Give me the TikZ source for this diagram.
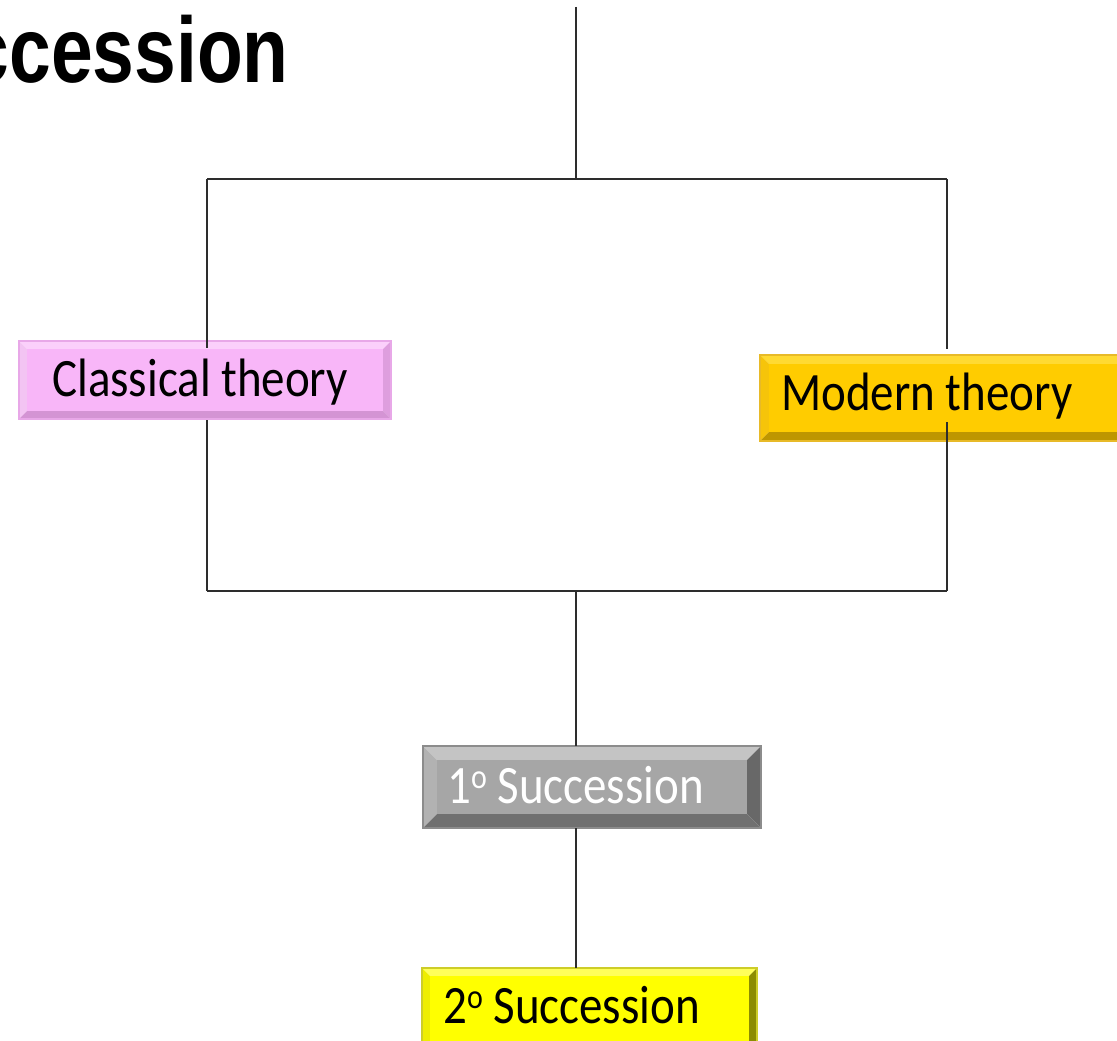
\documentclass[tikz,border=0pt]{standalone}
\usepackage{fontspec}
\setmainfont{Carlito}
\newfontfamily\titlefont{Liberation Sans}
\usetikzlibrary{calc,fit}
\definecolor{clsbase}{RGB}{248,182,248}
\definecolor{clstop}{RGB}{251,208,251}
\definecolor{clsleft}{RGB}{243,196,243}
\definecolor{clsright}{RGB}{222,158,222}
\definecolor{clsbottom}{RGB}{212,148,212}
\definecolor{clsedge}{RGB}{232,168,232}
\definecolor{modbase}{RGB}{255,204,0}
\definecolor{modtop}{RGB}{255,218,50}
\definecolor{modleft}{RGB}{246,196,10}
\definecolor{modright}{RGB}{215,170,0}
\definecolor{modbottom}{RGB}{190,150,0}
\definecolor{modedge}{RGB}{232,186,40}
\definecolor{onebase}{RGB}{166,166,166}
\definecolor{onetop}{RGB}{196,196,196}
\definecolor{oneleft}{RGB}{178,178,178}
\definecolor{oneright}{RGB}{104,104,104}
\definecolor{onebottom}{RGB}{112,112,112}
\definecolor{oneedge}{RGB}{140,140,140}
\definecolor{twobase}{RGB}{255,255,0}
\definecolor{twotop}{RGB}{255,255,90}
\definecolor{twoleft}{RGB}{238,238,0}
\definecolor{tworight}{RGB}{140,140,0}
\definecolor{twobottom}{RGB}{180,180,0}
\definecolor{twoedge}{RGB}{205,205,40}
\definecolor{linecol}{RGB}{45,45,45}
\newcommand\bvl[5]{%
  \coordinate (#1-nw) at (#2);
  \coordinate (#1-se) at (#3);
  \coordinate (#1-ne) at (#1-nw -| #1-se);
  \coordinate (#1-sw) at (#1-nw |- #1-se);
  \coordinate (#1-inw) at ($(#1-nw)+(#4,#4)$);
  \coordinate (#1-ise) at ($(#1-se)+(-#4,-#4)$);
  \coordinate (#1-ine) at (#1-inw -| #1-ise);
  \coordinate (#1-isw) at (#1-inw |- #1-ise);
  \fill[#5top] (#1-nw) -- (#1-ne) -- (#1-ine) -- (#1-inw) -- cycle;
  \fill[#5left] (#1-nw) -- (#1-inw) -- (#1-isw) -- (#1-sw) -- cycle;
  \fill[#5right] (#1-ne) -- (#1-se) -- (#1-ise) -- (#1-ine) -- cycle;
  \fill[#5bottom] (#1-sw) -- (#1-isw) -- (#1-ise) -- (#1-se) -- cycle;
  \fill[#5base] (#1-inw) rectangle (#1-ise);
  \draw[#5edge, line width=1.2pt] (#1-nw) rectangle (#1-se);
  \node[inner sep=0pt, fit=(#1-nw)(#1-se)] (#1) {};
}
\newcommand\supo{\raisebox{0.27em}{\fontsize{30}{30}\selectfont o}}
\tikzset{
  conn/.style={draw=linecol, line width=1.3pt},
  lbl/.style={anchor=base west, inner sep=0pt, font=\fontsize{47}{50}\selectfont},
}
\begin{document}
\begin{tikzpicture}[x=1pt,y=-1pt]
\useasboundingbox (0,0) rectangle (1117,1041);
\clip (0,0) rectangle (1117,1041);
\fill[white] (0,0) rectangle (1117,1041);

\node[anchor=base east, inner sep=0pt, font=\titlefont\bfseries\fontsize{75}{80}\selectfont] (title) at (289,83) {\scalebox{1}[1.24]{Succession}};

% boxes
\bvl{cls}{19,341}{391,419}{8}{cls}
\node[lbl] (cls-t) at (52,396) {\scalebox{1}[1.15]{Classical theory}};
\bvl{mod}{760,355}{1135,441}{9}{mod}
\node[lbl] (mod-t) at (781,410) {\scalebox{1}[1.15]{Modern theory}};
\bvl{one}{423,746}{761,828}{14}{one}
\node[lbl, text=white] (one-t) at (447,803) {\scalebox{1}[1.15]{1\supo\ Succession}};
\bvl{two}{422,968}{757,1060}{8}{two}
\node[lbl] (two-t) at (443,1023) {\scalebox{1}[1.15]{2\supo\ Succession}};

% connector coordinates
\coordinate (t0) at (576,7);
\coordinate (tm) at (576,179);
\coordinate (tl) at (207,179);
\coordinate (tr) at (947,179);
\coordinate (bl) at (207,591);
\coordinate (br) at (947,591);
\coordinate (bm) at (576,591);
\coordinate (c1a) at (207,348);
\coordinate (c1b) at (207,420);
\coordinate (c2a) at (947,349);
\coordinate (c2b) at (947,422);

\draw[conn] (t0) -- (tm);
\draw[conn] (tl) -- (tr);
\draw[conn] (tl) -- (c1a);
\draw[conn] (c1b) -- (bl);
\draw[conn] (tr) -- (c2a);
\draw[conn] (c2b) -- (br);
\draw[conn] (bl) -- (br);
\draw[conn] (bm) -- (bm |- one.north);
\draw[conn] (bm |- one.south) -- (bm |- two.north);
\end{tikzpicture}
\end{document}
